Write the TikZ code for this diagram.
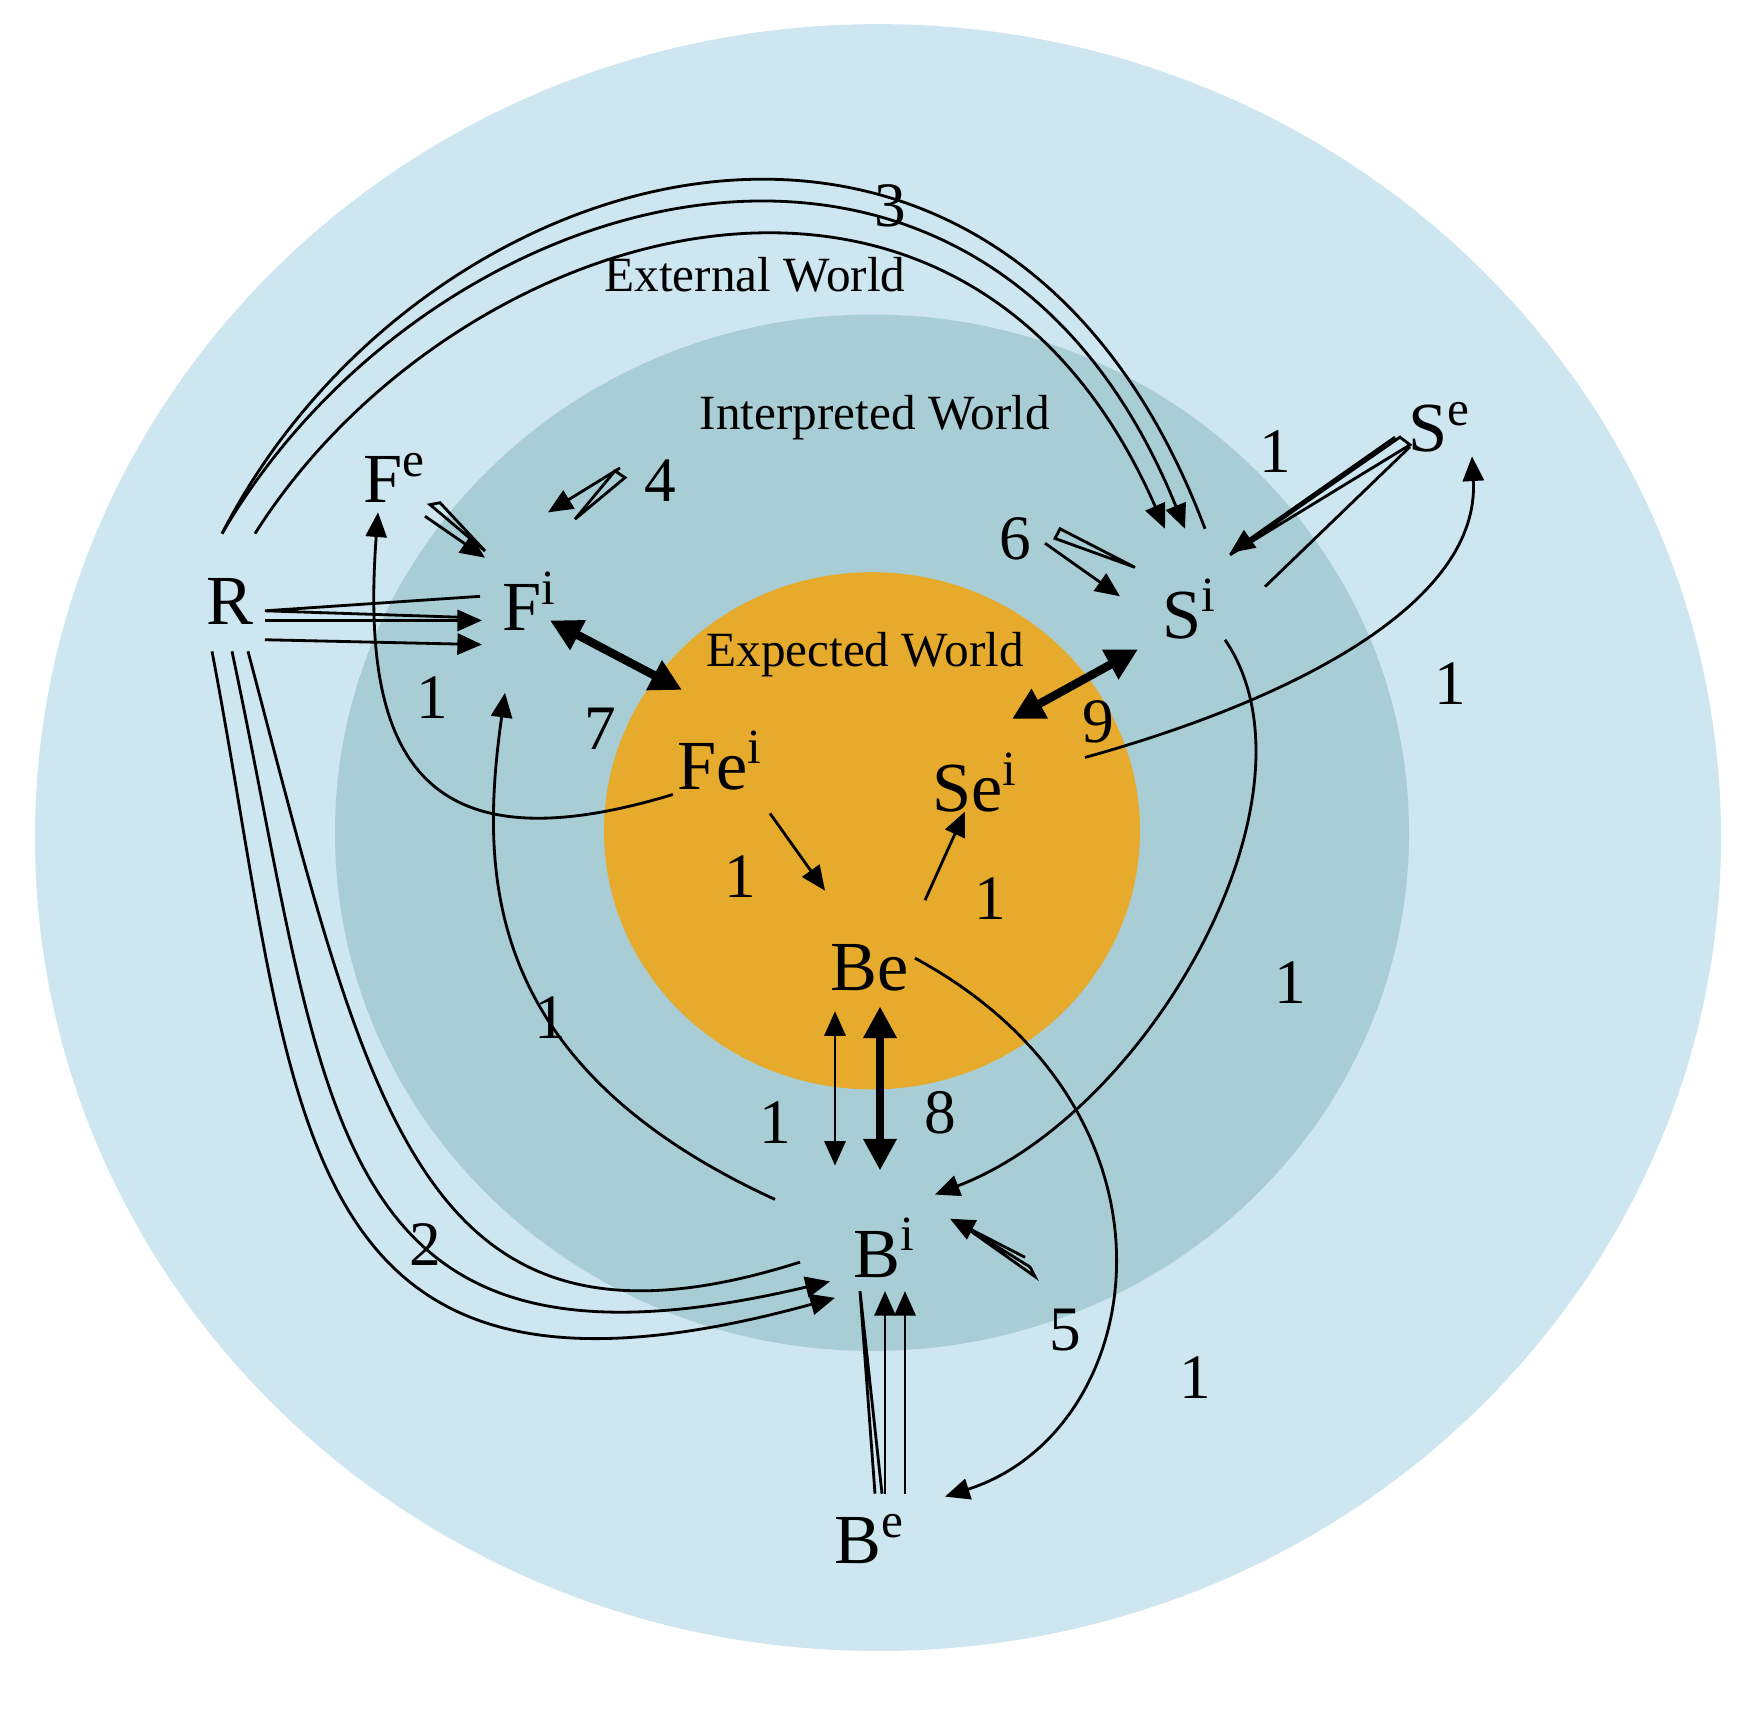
\documentclass[tikz,border=0pt]{standalone}
\usepackage{fontspec}
\setmainfont{Liberation Serif}
\usetikzlibrary{arrows.meta}
\definecolor{outerc}{HTML}{CDE6F0}
\definecolor{midc}{HTML}{A8CDD4}
\definecolor{innc}{HTML}{E6AB2C}
\begin{document}
\begin{tikzpicture}[x=0.01cm,y=-0.00965cm,
  lbl/.style={font=\fontsize{20}{22}\selectfont,inner sep=1pt},
  num/.style={font=\fontsize{18}{20}\selectfont},
  world/.style={font=\fontsize{14}{16}\selectfont},
  ar/.style={-{Triangle[length=7pt,width=6pt]},line width=0.8pt},
  dar/.style={{Triangle[length=7pt,width=6pt]}-{Triangle[length=7pt,width=6pt]},line width=0.8pt},
  tar/.style={{Triangle[length=9pt,width=9pt]}-{Triangle[length=9pt,width=9pt]},line width=2.4pt},
  ln/.style={line width=0.8pt}]
\fill[white] (0,-3) rectangle (1752,1786);
\useasboundingbox (0,-3) rectangle (1752,1786);
\fill[outerc] (878,865) circle (843);
\fill[midc] (872,860) circle (537);
\fill[innc] (872,858) circle (268);
\node[world] (ew) at (755,282) {External World};
\node[world] (iw) at (875,430) {Interpreted World};
\node[world] (xw) at (865,675) {Expected World};
\node[lbl] (R) at (230,620) {R};
\node[lbl] (Fe) at (395,492) {F\textsuperscript{e}};
\node[lbl] (Fi) at (530,620) {F\textsuperscript{i}};
\node[lbl] (Si) at (1190,628) {S\textsuperscript{i}};
\node[lbl] (Se) at (1440,440) {S\textsuperscript{e}};
\node[lbl] (Fei) at (720,785) {Fe\textsuperscript{i}};
\node[lbl] (Sei) at (975,808) {Se\textsuperscript{i}};
\node[lbl] (Be) at (870,1000) {Be};
\node[lbl] (Bi) at (885,1290) {B\textsuperscript{i}};
\node[lbl] (Bx) at (870,1592) {B\textsuperscript{e}};
% R -> Si (3)
\draw[ln] (222,550) .. controls (420,150) and (1000,-20) .. (1205,545);
\draw[ar] (222,550) .. controls (430,180) and (980,20) .. (1185,545);
\draw[ar] (255,550) .. controls (450,230) and (960,60) .. (1165,545);
% R -> Fi
\draw[ln] (480,615) -- (265,630) -- (470,637);
\draw[ar] (265,640) -- (482,640);
\draw[ar] (265,660) -- (482,665);
% R -> Bi (2)
\draw[ar] (212,672) .. controls (300,1150) and (280,1500) .. (835,1342);
\draw[ar] (232,672) .. controls (330,1150) and (320,1450) .. (830,1325);
\draw[ln] (248,672) .. controls (370,1150) and (420,1430) .. (800,1305);
% Fe -> Fi
\draw[ln] (430,520) -- (485,568) -- (440,518) -- cycle;
\draw[ar] (425,532) -- (485,575);
% 4 -> Fi
\draw[ln] (625,492) -- (575,535) -- (615,485) -- cycle;
\draw[ar] (620,482) -- (548,528);
% 6 -> Si
\draw[ln] (1060,545) -- (1135,585) -- (1055,555) -- cycle;
\draw[ar] (1045,560) -- (1120,615);
% Se -> Si
\draw[ln] (1400,450) -- (1230,572) -- (1410,458) -- cycle;
\draw[ar] (1395,450) -- (1230,570);
\draw[ln] (1410,460) -- (1265,605);
% 5 -> Bi
\draw[ln] (1030,1310) -- (960,1265) -- (1035,1320) -- cycle;
\draw[ar] (1025,1300) -- (950,1260);
% Be ext -> Bi
\draw[ln] (875,1545) -- (860,1335) -- (882,1545);
\draw[ar] (885,1545) -- (885,1335);
\draw[ar] (905,1545) -- (905,1335);
% single curves
\draw[ar] (Fei.south west) .. controls (420,900) and (360,780) .. (378,528);
\draw[ar] (775,1240) .. controls (480,1100) and (480,900) .. (505,715);
\draw[ar] (1225,660) .. controls (1330,820) and (1150,1150) .. (935,1235);
\draw[ar] (1085,782) .. controls (1300,720) and (1480,620) .. (1472,470);
\draw[ar] (915,990) .. controls (1200,1150) and (1150,1480) .. (945,1548);
\draw[ar] (770,840) -- (825,920);
\draw[ar] (925,930) -- (965,838);
\draw[dar] (835,1045) -- (835,1205);
\draw[tar] (880,1040) -- (880,1210);
\draw[tar] (550,640) -- (682,712);
\draw[tar] (1138,670) -- (1012,742);
% numbers
\node[num] (n3) at (890,210) {3};
\node[num] (n4) at (660,495) {4};
\node[num] (n1a) at (1275,465) {1};
\node[num] (n6) at (1015,555) {6};
\node[num] (n1b) at (1450,705) {1};
\node[num] (n1c) at (432,720) {1};
\node[num] (n7) at (600,752) {7};
\node[num] (n9) at (1098,745) {9};
\node[num] (n1d) at (740,905) {1};
\node[num] (n1e) at (990,928) {1};
\node[num] (n1f) at (550,1052) {1};
\node[num] (n1g) at (1290,1015) {1};
\node[num] (n1h) at (775,1160) {1};
\node[num] (n8) at (940,1150) {8};
\node[num] (n2) at (425,1287) {2};
\node[num] (n5) at (1065,1375) {5};
\node[num] (n1i) at (1195,1425) {1};
\end{tikzpicture}
\end{document}
